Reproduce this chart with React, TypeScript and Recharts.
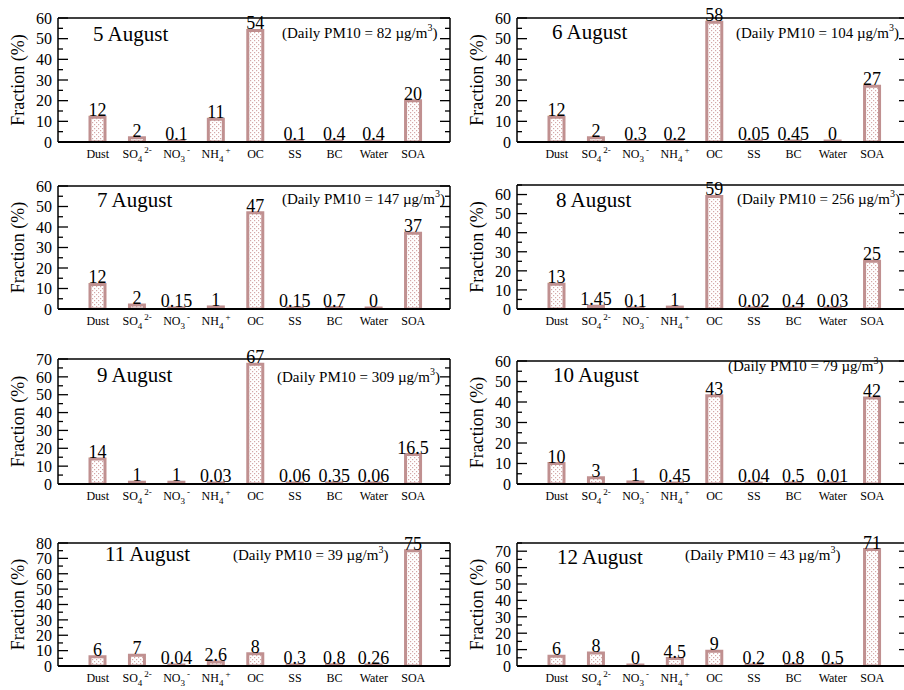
import React from "react";
import { BarChart, Bar, XAxis, YAxis, LabelList } from "recharts";

// species on the x axis
const categories = ["Dust", "SO4", "NO3", "NH4", "OC", "SS", "BC", "Water", "SOA"];

// daily PM10 composition (%)
const aug5 = [12, 2, 0.1, 11, 54, 0.1, 0.4, 0.4, 20];
const aug6 = [12, 2, 0.3, 0.2, 58, 0.05, 0.45, 0, 27];
const aug7 = [12, 2, 0.15, 1, 47, 0.15, 0.7, 0, 37];
const aug8 = [13, 1.45, 0.1, 1, 59, 0.02, 0.4, 0.03, 25];
const aug9 = [14, 1, 1, 0.03, 67, 0.06, 0.35, 0.06, 16.5];
const aug10 = [10, 3, 1, 0.45, 43, 0.04, 0.5, 0.01, 42];
const aug11 = [6, 7, 0.04, 2.6, 8, 0.3, 0.8, 0.26, 75];
const aug12 = [6, 8, 0, 4.5, 9, 0.2, 0.8, 0.5, 71];

const days = ["5 August", "6 August", "7 August", "8 August", "9 August", "10 August", "11 August", "12 August"];
const dayValues = [aug5, aug6, aug7, aug8, aug9, aug10, aug11, aug12];
const pm10 = [82, 104, 147, 256, 309, 79, 39, 43];
const yMax = [60, 60, 60, 65, 70, 60, 80, 75];

// y ticks (labels only on multiples of 10)
const ticks60 = [0, 5, 10, 15, 20, 25, 30, 35, 40, 45, 50, 55, 60];
const ticks65 = [0, 5, 10, 15, 20, 25, 30, 35, 40, 45, 50, 55, 60, 65];
const ticks70 = [0, 5, 10, 15, 20, 25, 30, 35, 40, 45, 50, 55, 60, 65, 70];
const ticks75 = [0, 5, 10, 15, 20, 25, 30, 35, 40, 45, 50, 55, 60, 65, 70, 75];
const ticks80 = [0, 5, 10, 15, 20, 25, 30, 35, 40, 45, 50, 55, 60, 65, 70, 75, 80];
const dayTicks = [ticks60, ticks60, ticks60, ticks65, ticks70, ticks60, ticks80, ticks75];

// layout (x = chart left, plot top/bottom in page coords)
const panelPos = [
  { x: 0, top: 18, bottom: 142 },
  { x: 459, top: 18, bottom: 142 },
  { x: 0, top: 186, bottom: 309 },
  { x: 459, top: 185, bottom: 309 },
  { x: 0, top: 359, bottom: 484 },
  { x: 459, top: 361, bottom: 484 },
  { x: 0, top: 543, bottom: 666 },
  { x: 459, top: 543, bottom: 666 },
];
// offsets from plot top-left
const titlePos = [[35, 23], [35, 21], [39, 21], [39, 22], [39, 23], [36, 21], [47, 18], [40, 21]];
const notePos = [[224, 20], [219, 20], [224, 18], [220, 19], [219, 23], [211, 10], [175, 17], [168, 17]];

const FONT = "'Liberation Serif', 'Times New Roman', serif";
const BAR_STROKE = "#c09090";
const M_TOP = 16;
const M_LEFT = 13;
const Y_W = 45;
const X_H = 30;
const PLOT_W = 392;

const LeftTick = (p: any) => {
  const v = p.payload.value;
  const major = v % 10 === 0;
  return (
    <g>
      <line x1={p.x} x2={p.x + (major ? 10 : 5)} y1={p.y} y2={p.y} stroke="#000" strokeWidth={1.3} />
      {major && (
        <text x={p.x - 6} y={p.y} dy="0.36em" textAnchor="end" fontSize={16} fontFamily={FONT} fill="#000">
          {v}
        </text>
      )}
    </g>
  );
};

const RightTick = (p: any) => {
  const v = p.payload.value;
  const major = v % 10 === 0;
  return <line x1={p.x} x2={p.x - (major ? 10 : 5)} y1={p.y} y2={p.y} stroke="#000" strokeWidth={1.3} />;
};

const CatTick = (p: any) => {
  const name = p.payload.value;
  const y = p.y + 16;
  const common = { x: p.x, y, textAnchor: "middle" as const, fontSize: 12, fontFamily: FONT, fill: "#000" };
  if (name === "SO4")
    return (
      <text {...common}>
        SO<tspan dy={4} fontSize={9}>4</tspan>
        <tspan dx={2} dy={-9} fontSize={9}>2-</tspan>
      </text>
    );
  if (name === "NO3")
    return (
      <text {...common}>
        NO<tspan dy={4} fontSize={9}>3</tspan>
        <tspan dx={2} dy={-9} fontSize={9}>-</tspan>
      </text>
    );
  if (name === "NH4")
    return (
      <text {...common}>
        NH<tspan dy={4} fontSize={9}>4</tspan>
        <tspan dx={2} dy={-9} fontSize={9}>+</tspan>
      </text>
    );
  return <text {...common}>{name}</text>;
};

const ValueLabel = (p: any) => (
  <text x={p.x + p.width / 2} y={p.y - 1} textAnchor="middle" fontSize={18} fontFamily={FONT} fill="#000">
    {p.value}
  </text>
);

function Panel({ i }: { i: number }) {
  const pos = panelPos[i];
  const plotH = pos.bottom - pos.top;
  const h = M_TOP + plotH + X_H;
  const w = M_LEFT + Y_W + PLOT_W + 1 + 4;
  const data = categories.map((c, k) => ({ cat: c, v: dayValues[i][k] }));
  const left = M_LEFT + Y_W;
  return (
    <div style={{ position: "absolute", left: pos.x, top: pos.top - M_TOP, width: w, height: h }}>
      <BarChart width={w} height={h} data={data} margin={{ top: M_TOP - 1, right: 4, bottom: 0, left: M_LEFT }}>
        <XAxis
          xAxisId="b"
          dataKey="cat"
          height={X_H}
          interval={0}
          padding={{ left: 20, right: 17 }}
          tickSize={0}
          tickMargin={0}
          tickLine={false}
          tick={CatTick}
          axisLine={{ stroke: "#000", strokeWidth: 2 }}
        />
        <XAxis
          xAxisId="t"
          dataKey="cat"
          orientation="top"
          height={1}
          tick={false}
          tickLine={false}
          axisLine={{ stroke: "#000", strokeWidth: 1.5 }}
        />
        <YAxis
          yAxisId="l"
          width={Y_W}
          domain={[0, yMax[i]]}
          ticks={dayTicks[i]}
          interval={0}
          allowDataOverflow
          tickSize={0}
          tickMargin={0}
          tickLine={false}
          tick={LeftTick}
          axisLine={{ stroke: "#000", strokeWidth: 1.5 }}
        />
        <YAxis
          yAxisId="r"
          orientation="right"
          width={1}
          domain={[0, yMax[i]]}
          ticks={dayTicks[i]}
          interval={0}
          allowDataOverflow
          tickSize={0}
          tickMargin={0}
          tickLine={false}
          tick={RightTick}
          axisLine={{ stroke: "#000", strokeWidth: 1.5 }}
        />
        {/* invisible twin series so the frame axes (top, right) get drawn */}
        <Bar
          xAxisId="t"
          yAxisId="r"
          dataKey="v"
          barSize={15}
          fill="none"
          stroke="none"
          legendType="none"
          isAnimationActive={false}
        />
        <Bar
          xAxisId="b"
          yAxisId="l"
          dataKey="v"
          barSize={15}
          fill="url(#dots)"
          stroke={BAR_STROKE}
          strokeWidth={3}
          minPointSize={1}
          isAnimationActive={false}
        >
          <LabelList dataKey="v" content={ValueLabel} />
        </Bar>
      </BarChart>
      <svg width={w} height={h} style={{ position: "absolute", left: 0, top: 0, pointerEvents: "none", overflow: "visible" }}>
        <text
          transform={`translate(${left - 40} ${M_TOP + plotH / 2}) rotate(-90)`}
          textAnchor="middle"
          dy="0.33em"
          fontSize={18}
          fontFamily={FONT}
          fill="#000"
        >
          Fraction (%)
        </text>
        <text x={left + titlePos[i][0]} y={M_TOP + titlePos[i][1]} fontSize={21} fontFamily={FONT} fill="#000">
          {days[i]}
        </text>
        <text x={left + notePos[i][0]} y={M_TOP + notePos[i][1]} fontSize={15} fontFamily={FONT} fill="#000">
          (Daily PM10 = {pm10[i]} µg/m<tspan dy={-7} fontSize={10}>3</tspan>
          <tspan dy={7}>)</tspan>
        </text>
      </svg>
    </div>
  );
}

export default function App() {
  return (
    <div style={{ position: "absolute", left: 0, top: 0, width: 904, height: 690, overflow: "hidden", background: "#fff" }}>
      <svg width={0} height={0} style={{ position: "absolute" }}>
        <defs>
          <pattern id="dots" width={4} height={4} patternUnits="userSpaceOnUse">
            <rect width={4} height={4} fill="#fff" />
            <rect x={0} y={0} width={1.2} height={1.2} fill="#d4a8a8" />
            <rect x={2} y={2} width={1.2} height={1.2} fill="#d4a8a8" />
          </pattern>
        </defs>
      </svg>
      {days.map((d, i) => (
        <Panel key={d} i={i} />
      ))}
    </div>
  );
}
